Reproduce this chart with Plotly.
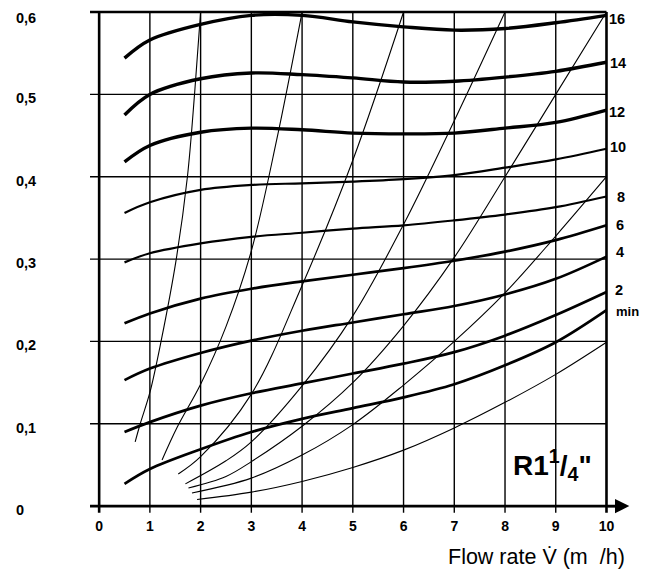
import plotly.graph_objects as go

# ---------------- data ----------------
# thick family, labelled on the right (16 ... min)
thick_x = [0.5, 1, 2, 3, 4, 5, 6, 7, 8, 9, 10]
curve_16 = [0.544, 0.566, 0.585, 0.596, 0.596, 0.588, 0.582, 0.578, 0.580, 0.587, 0.596]
curve_14 = [0.475, 0.500, 0.519, 0.526, 0.524, 0.520, 0.515, 0.516, 0.521, 0.528, 0.539]
curve_12 = [0.418, 0.438, 0.454, 0.459, 0.457, 0.453, 0.452, 0.453, 0.459, 0.466, 0.481]
curve_10 = [0.356, 0.369, 0.384, 0.390, 0.392, 0.394, 0.397, 0.402, 0.411, 0.421, 0.434]
curve_8 = [0.296, 0.307, 0.319, 0.327, 0.332, 0.337, 0.341, 0.347, 0.354, 0.363, 0.376]
curve_6 = [0.222, 0.234, 0.252, 0.264, 0.273, 0.281, 0.289, 0.298, 0.309, 0.323, 0.341]
curve_4 = [0.153, 0.167, 0.186, 0.201, 0.213, 0.223, 0.233, 0.243, 0.257, 0.276, 0.303]
curve_2 = [0.090, 0.102, 0.122, 0.137, 0.149, 0.161, 0.173, 0.187, 0.207, 0.232, 0.260]
curve_min = [0.027, 0.045, 0.069, 0.090, 0.106, 0.119, 0.132, 0.148, 0.171, 0.199, 0.238]
thick_labels = ["16", "14", "12", "10", "8", "6", "4", "2", "min"]

# thin steep family (unlabelled)
thin_a_x = [0.71, 0.81, 1.0, 1.22, 1.52, 1.74, 1.88, 2.0]
thin_a_y = [0.078, 0.10, 0.138, 0.20, 0.30, 0.40, 0.50, 0.60]
thin_b_x = [1.24, 1.54, 2.0, 2.5, 3.0, 3.5, 4.0]
thin_b_y = [0.056, 0.096, 0.148, 0.218, 0.310, 0.445, 0.600]
thin_c_x = [1.56, 2.0, 3.0, 4.0, 5.0, 6.0]
thin_c_y = [0.039, 0.060, 0.136, 0.268, 0.420, 0.600]
thin_d_x = [1.70, 2.5, 3.0, 4.0, 5.0, 6.0, 7.0, 8.0]
thin_d_y = [0.027, 0.055, 0.078, 0.146, 0.231, 0.342, 0.468, 0.600]
thin_e_x = [1.76, 2.5, 3.0, 4.0, 5.0, 6.0, 7.0, 8.0, 9.0, 10.0]
thin_e_y = [0.022, 0.036, 0.054, 0.097, 0.150, 0.219, 0.302, 0.400, 0.500, 0.600]
thin_f_x = [1.83, 3.0, 4.0, 5.0, 6.0, 7.0, 8.0, 9.0, 10.0]
thin_f_y = [0.016, 0.034, 0.062, 0.099, 0.147, 0.200, 0.259, 0.328, 0.400]
thin_g_x = [1.93, 3.0, 4.0, 5.0, 6.0, 7.0, 8.0, 9.0, 10.0]
thin_g_y = [0.008, 0.017, 0.030, 0.047, 0.068, 0.095, 0.126, 0.160, 0.199]

x_ticks = [0, 1, 2, 3, 4, 5, 6, 7, 8, 9, 10]
y_ticks = [0, 0.1, 0.2, 0.3, 0.4, 0.5, 0.6]
y_tick_text = ["0", "0,1", "0,2", "0,3", "0,4", "0,5", "0,6"]
x_title = "Flow rate V\u0307 (m  /h)"
size_label = "R1<sup>1</sup>/<sub>4</sub>\""

# ---------------- figure ----------------
fig = go.Figure()

thick_series = [curve_16, curve_14, curve_12, curve_10, curve_8,
                curve_6, curve_4, curve_2, curve_min]
thick_widths = [3.4, 3.4, 3.4, 2.2, 2.2, 2.7, 2.7, 2.7, 2.7]
for ys, w, name in zip(thick_series, thick_widths, thick_labels):
    fig.add_trace(go.Scatter(x=thick_x, y=ys, mode="lines", name=name,
                             line=dict(color="black", width=w, shape="spline"),
                             hoverinfo="skip"))

thin_series = [(thin_a_x, thin_a_y), (thin_b_x, thin_b_y), (thin_c_x, thin_c_y),
               (thin_d_x, thin_d_y), (thin_e_x, thin_e_y), (thin_f_x, thin_f_y),
               (thin_g_x, thin_g_y)]
for xs, ys in thin_series:
    fig.add_trace(go.Scatter(x=xs, y=ys, mode="lines",
                             line=dict(color="black", width=1.1, shape="spline"),
                             hoverinfo="skip"))

# grid / frame lines
shapes = []
for xv in x_ticks:
    w = 2.6 if xv in (0, 10) else 1.4
    shapes.append(dict(type="line", xref="x", yref="y", x0=xv, x1=xv,
                       y0=-0.008, y1=0.6, line=dict(color="black", width=w),
                       layer="below"))
for yv in y_ticks[1:]:
    w = 2.6 if yv == 0.6 else 1.3
    shapes.append(dict(type="line", xref="x", yref="y", x0=-0.18, x1=10,
                       y0=yv, y1=yv, line=dict(color="black", width=w),
                       layer="below"))
shapes.append(dict(type="line", xref="x", yref="y", x0=-0.18, x1=10.3,
                   y0=0, y1=0, line=dict(color="black", width=2.6)))

annotations = []
# arrow at the end of x axis
annotations.append(dict(x=10.45, y=0, ax=10.0, ay=0, xref="x", yref="y",
                        axref="x", ayref="y", text="", showarrow=True,
                        arrowhead=2, arrowsize=1.3, arrowwidth=2.2,
                        arrowcolor="black"))
# y tick labels (left aligned)
for yv, t in zip(y_ticks, y_tick_text):
    if yv == 0.6:
        annotations.append(dict(x=-0.1356, y=1, xref="paper", yref="paper",
                                text="<b>" + t + "</b>", showarrow=False,
                                xanchor="left", yanchor="top",
                                font=dict(family="Liberation Sans, Arial", size=14.5,
                                          color="black")))
    else:
        annotations.append(dict(x=-0.1356, y=yv, xref="paper", yref="y",
                                text="<b>" + t + "</b>", showarrow=False,
                                xanchor="left", yanchor="middle", yshift=-4,
                                font=dict(family="Liberation Sans, Arial", size=14.5,
                                          color="black")))
# right-hand curve labels
label_pos = [(10.01, 0.592), (10.03, 0.538), (10.01, 0.479), (10.03, 0.436),
             (10.17, 0.375), (10.15, 0.341), (10.15, 0.308), (10.13, 0.262),
             (10.15, 0.236)]
for (lx, ly), t in zip(label_pos, thick_labels):
    annotations.append(dict(x=lx, y=ly, xref="x", yref="y", text="<b>" + t + "</b>",
                            showarrow=False, xanchor="left", yanchor="middle",
                            font=dict(family="Liberation Sans, Arial",
                                      size=13 if t == "min" else 14.5, color="black")))
# size label
annotations.append(dict(x=9.76, y=0.05, xref="x", yref="y", text="<b>" + size_label + "</b>",
                        showarrow=False, xanchor="right", yanchor="middle",
                        font=dict(family="Liberation Sans, Arial", size=28, color="black")))
# axis title
annotations.append(dict(x=0.973, y=-0.081, xref="paper", yref="paper",
                        text=x_title, showarrow=False, xanchor="right", yanchor="middle",
                        font=dict(family="Liberation Sans, Arial", size=21.5, color="black")))

# the page body adds an 8 px margin, so the figure is 8 px smaller than the window
fig.update_layout(
    width=648, height=566,
    margin=dict(l=81, r=14, t=0, b=58.1),
    paper_bgcolor="white", plot_bgcolor="white",
    showlegend=False,
    shapes=shapes,
    annotations=annotations,
    xaxis=dict(range=[-0.2, 10.7], showgrid=False, zeroline=False, showline=False,
               tickmode="array", tickvals=x_ticks,
               ticktext=["<b>%d</b>" % v for v in x_ticks],
               ticks="", tickfont=dict(family="Liberation Sans, Arial", size=14, color="black"),
               fixedrange=True),
    yaxis=dict(range=[-0.012, 0.6049], showgrid=False, zeroline=False, showline=False,
               showticklabels=False, ticks="", fixedrange=True),
)

fig.write_html("out.html")
